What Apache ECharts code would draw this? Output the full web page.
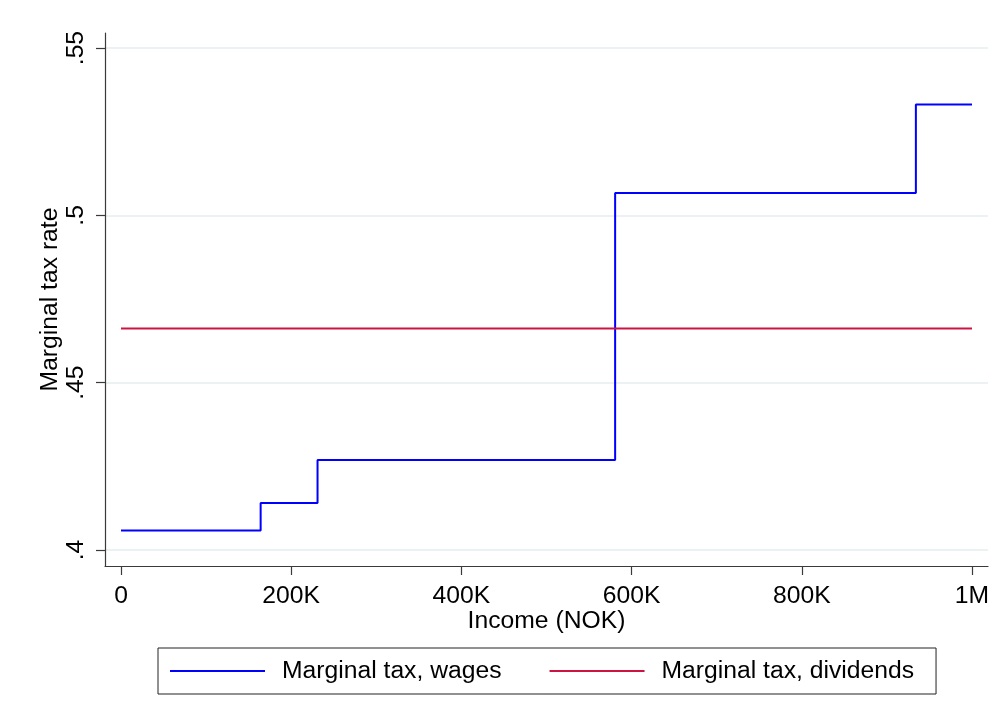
<!DOCTYPE html>
<html>
<head>
<meta charset="utf-8">
<script src="https://cdn.jsdelivr.net/npm/echarts@6/dist/echarts.min.js"></script>
<style>
  html, body { margin: 0; padding: 0; background: #ffffff; }
  #chart { width: 1005px; height: 723px; }
</style>
</head>
<body>
<div id="chart"></div>
<script>
// ---- data ----
const wageIncome = [0, 164100, 230950, 580650, 934050, 1000000];
const wageRates = [0.4058, 0.4140, 0.4269, 0.5067, 0.5331, 0.5331];
const dividendIncome = [0, 1000000];
const dividendRates = [0.4662, 0.4662];
const xTickValues = [0, 200000, 400000, 600000, 800000, 1000000];
const xTickLabels = ['0', '200K', '400K', '600K', '800K', '1M'];
const yTickValues = [0.4, 0.45, 0.5, 0.55];
const yTickLabels = ['.4', '.45', '.5', '.55'];
const seriesNames = ['Marginal tax, wages', 'Marginal tax, dividends'];

const FONT = "'Liberation Sans', Arial, sans-serif";
const FS = 24.7;

function labelFor(values, labels, v) {
  for (let i = 0; i < values.length; i++) {
    if (Math.abs(values[i] - v) < 1e-6 * Math.max(1, Math.abs(values[i]))) return labels[i];
  }
  return '';
}

const chart = echarts.init(document.getElementById('chart'), null, { renderer: 'canvas' });
chart.setOption({
  backgroundColor: '#ffffff',
  animation: false,
  textStyle: { fontFamily: FONT, color: '#000' },
  grid: { left: 105, right: 17, top: 33, bottom: 157, containLabel: false },
  xAxis: {
    type: 'value',
    min: -18800,
    max: 1018800,
    name: 'Income (NOK)',
    nameLocation: 'middle',
    nameGap: 43,
    nameMoveOverlap: false,
    nameTextStyle: { fontFamily: FONT, fontSize: FS, color: '#000' },
    axisLine: { show: true, onZero: false, lineStyle: { color: '#3a3a3a', width: 1.2 } },
    axisTick: { show: true, length: 9, customValues: xTickValues, lineStyle: { color: '#3a3a3a', width: 1.2 } },
    axisLabel: {
      customValues: xTickValues,
      margin: 18,
      fontFamily: FONT, fontSize: FS, color: '#000',
      formatter: v => labelFor(xTickValues, xTickLabels, v)
    },
    splitLine: { show: false }
  },
  yAxis: {
    type: 'value',
    min: 0.3952,
    max: 0.5545,
    name: 'Marginal tax rate',
    nameLocation: 'middle',
    nameRotate: 90,
    nameGap: 42,
    nameMoveOverlap: false,
    nameTextStyle: { fontFamily: FONT, fontSize: FS, color: '#000' },
    axisLine: { show: true, onZero: false, lineStyle: { color: '#3a3a3a', width: 1.2 } },
    axisTick: { show: true, length: 9, customValues: yTickValues, lineStyle: { color: '#3a3a3a', width: 1.2 } },
    axisLabel: {
      customValues: yTickValues,
      rotate: 90,
      margin: 16,
      fontFamily: FONT, fontSize: FS, color: '#000',
      formatter: v => labelFor(yTickValues, yTickLabels, v)
    },
    splitLine: { show: true, lineStyle: { color: '#e6eeef', width: 1.5 } }
  },
  legend: {
    left: 158,
    top: 648,
    orient: 'horizontal',
    data: seriesNames,
    itemWidth: 95,
    itemHeight: 24,
    itemGap: 47,
    padding: [10, 22, 10, 11],
    borderColor: '#222',
    borderWidth: 1,
    itemStyle: { opacity: 0 },
    lineStyle: { width: 2 },
    textStyle: { fontFamily: FONT, fontSize: FS, color: '#000', lineHeight: 24, padding: [2, 0, 0, 12] }
  },
  series: [
    {
      name: seriesNames[0],
      type: 'line',
      step: 'end',
      symbol: 'none',
      data: wageIncome.map((x, i) => [x, wageRates[i]]),
      lineStyle: { color: '#0000ff', width: 2 },
      itemStyle: { color: '#0000ff' }
    },
    {
      name: seriesNames[1],
      type: 'line',
      symbol: 'none',
      data: dividendIncome.map((x, i) => [x, dividendRates[i]]),
      lineStyle: { color: '#cc1342', width: 2 },
      itemStyle: { color: '#cc1342' }
    }
  ]
});
</script>
</body>
</html>
